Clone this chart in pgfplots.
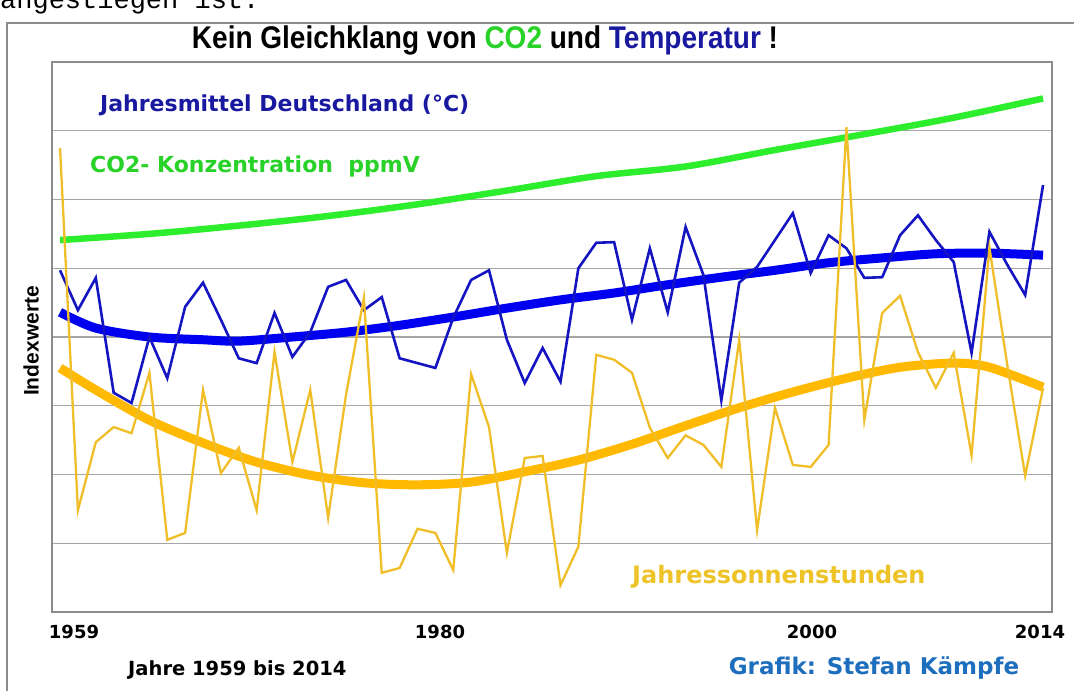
\documentclass[border=0pt]{standalone}
\usepackage{fontspec}
\setmainfont{Liberation Sans}
\newfontfamily\dv{DejaVu Sans}
\newfontfamily\mono{Liberation Mono}
\usepackage{graphicx}
\usepackage{pgfplots}
\pgfplotsset{compat=1.18}

\definecolor{tblue}{RGB}{20,20,195}
\definecolor{trendblue}{RGB}{0,0,240}
\definecolor{cogreen}{RGB}{45,238,45}
\definecolor{sunthin}{RGB}{240,190,40}
\definecolor{suntrend}{RGB}{255,185,0}
\definecolor{labblue}{RGB}{25,25,160}
\definecolor{labgreen}{RGB}{40,210,40}
\definecolor{labsun}{RGB}{238,195,40}
\definecolor{grafblue}{RGB}{30,110,190}
\definecolor{gridgray}{RGB}{165,165,165}
\definecolor{framegray}{RGB}{140,140,140}

\pgfplotstableread{
year temp sun
1959 4.97 6.75
1960 4.39 1.48
1961 4.86 2.47
1962 3.19 2.69
1963 3.04 2.60
1964 4.00 3.48
1965 3.40 1.05
1966 4.44 1.15
1967 4.79 3.23
1968 4.25 2.02
1969 3.69 2.39
1970 3.62 1.48
1971 4.35 3.78
1972 3.71 2.18
1973 4.07 3.23
1974 4.73 1.37
1975 4.83 3.16
1976 4.39 4.57
1977 4.58 0.57
1978 3.69 0.64
1979 3.62 1.21
1980 3.55 1.15
1981 4.28 0.61
1982 4.83 3.46
1983 4.97 2.69
1984 3.96 0.86
1985 3.33 2.24
1986 3.84 2.27
1987 3.35 0.39
1988 5.00 0.95
1989 5.37 3.74
1990 5.38 3.67
1991 4.25 3.48
1992 5.29 2.68
1993 4.36 2.24
1994 5.60 2.57
1995 4.90 2.43
1996 3.08 2.11
1997 4.79 3.96
1998 5.02 1.19
1999 5.41 2.97
2000 5.80 2.14
2001 4.93 2.11
2002 5.48 2.43
2003 5.29 7.05
2004 4.86 2.79
2005 4.87 4.35
2006 5.48 4.60
2007 5.77 3.78
2008 5.41 3.26
2009 5.09 3.77
2010 3.77 2.28
2011 5.53 5.30
2012 5.05 3.59
2013 4.61 1.98
2014 6.21 3.26
}\datatable

\pgfplotstableread{
year co2
1959 5.41
1964 5.50
1969 5.62
1974 5.76
1979 5.93
1984 6.13
1989 6.34
1994 6.48
1999 6.72
2004 6.95
2009 7.19
2014 7.47
}\cotable

\pgfplotstableread{
year ttrend
1959 4.36
1961 4.13
1964 4.00
1967 3.96
1969 3.94
1972 4.00
1975 4.07
1978 4.17
1981 4.29
1984 4.42
1987 4.54
1990 4.64
1993 4.76
1996 4.87
1999 4.97
2002 5.08
2005 5.15
2008 5.21
2011 5.22
2014 5.19
}\ttrendtable

\pgfplotstableread{
year strend
1959 3.55
1961 3.23
1964 2.79
1967 2.46
1970 2.18
1973 1.99
1976 1.88
1979 1.85
1982 1.89
1985 2.04
1988 2.21
1991 2.44
1994 2.71
1997 2.97
2000 3.20
2003 3.40
2006 3.56
2009 3.62
2011 3.56
2014 3.27
}\strendtable

\begin{document}
\begin{tikzpicture}[x=1pt,y=1pt]
\useasboundingbox (-52,-79) rectangle (1022,612);
\fill[white] (-52,-79) rectangle (1022,612);
% cropped text of the surrounding page
\node[anchor=base west, inner sep=0, font=\mono\fontsize{27}{27}\selectfont] at (-52,603) {angestiegen ist.};
% outer frame
\draw[framegray, line width=1.5] (-45,-80) -- (-45,589) -- (1023,589);
% title
\node[font=\bfseries\fontsize{28}{28}\selectfont] at (433,572)
  {\scalebox{1}[1.12]{Kein Gleichklang von \textcolor{labgreen}{CO2} und \textcolor{labblue}{Temperatur} !}};

\begin{axis}[at={(0,0)}, anchor=south west, scale only axis,
  width=1000pt, height=550pt,
  xmin=1958.55, xmax=2014.5, ymin=0, ymax=8,
  xtick=\empty, ytick={1,2,3,4,5,6,7}, yticklabels={},
  ymajorgrids, grid style={gridgray, line width=1.2pt},
  major tick length=0pt,
  axis line style={framegray, line width=2pt},
  axis background/.style={fill=white}]
\addplot[trendblue, line width=9pt, smooth, tension=0.5] table[x=year, y=ttrend] {\ttrendtable};
\addplot[suntrend, line width=9pt, smooth, tension=0.5] table[x=year, y=strend] {\strendtable};
\addplot[cogreen, line width=6.5pt, smooth] table[x=year, y=co2] {\cotable};
\addplot[tblue, line width=2.6pt, line join=miter] table[x=year, y=temp] {\datatable};
\addplot[sunthin, line width=2.3pt] table[x=year, y=sun] {\datatable};
\end{axis}

% series labels
\node[anchor=west, inner sep=0, text=labblue, font=\dv\bfseries\fontsize{22}{22}\selectfont] at (48,507) {Jahresmittel Deutschland (°C)};
\node[anchor=west, inner sep=0, text=labgreen, font=\dv\bfseries\fontsize{22}{22}\selectfont] at (38,446) {CO2- Konzentration\ \ ppmV};
\node[anchor=west, inner sep=0, text=labsun, font=\dv\bfseries\fontsize{24}{24}\selectfont] at (580,35) {Jahressonnenstunden};
\node[rotate=90, font=\bfseries\fontsize{21}{21}\selectfont] at (-21,271) {Indexwerte};
% year labels
\foreach \px/\yr in {22/1959, 388/1980, 760/2000, 988/2014}
  \node[font=\dv\bfseries\fontsize{18}{18}\selectfont] at (\px,-20) {\yr};
\node[anchor=west, inner sep=0, font=\dv\bfseries\fontsize{19.5}{19.5}\selectfont] at (76,-58) {Jahre 1959 bis 2014};
\node[text=grafblue, font=\dv\bfseries\fontsize{23}{23}\selectfont] at (822,-56) {Grafik: Stefan Kämpfe};
\end{tikzpicture}
\end{document}
